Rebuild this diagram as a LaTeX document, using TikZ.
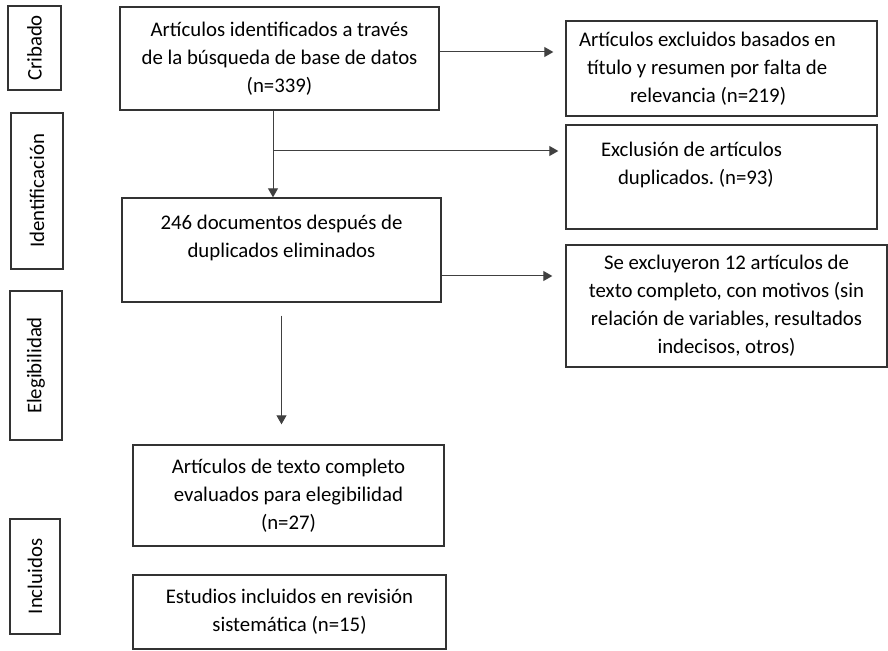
\documentclass[tikz,border=0pt]{standalone}
\usepackage{fontspec}
\setmainfont{Carlito}
\usetikzlibrary{arrows.meta}

\begin{document}
\begin{tikzpicture}[x=0.5pt, y=-0.5pt,
    box/.style={draw=black!80, line width=0.7pt, align=center, inner sep=0pt,
        font=\fontsize{10.4pt}{14pt}\selectfont\frenchspacing},
    leftbox/.style={box, align=flush left, text width=155.5pt},
    phase/.style={box, rotate=90},
    arr/.style={-{Triangle[length=4.5pt, width=5pt]}, line width=0.5pt, draw=black!75}]
	    \useasboundingbox (0,0) rectangle (888,651);

	    % phases on the left
	    \node[phase, minimum width=42pt, minimum height=26.5pt] (cribado) at (34.5,48) {Cribado};
	    \node[phase, minimum width=78pt, minimum height=26pt] (identif) at (37,191) {Identificación};
	    \node[phase, minimum width=74.5pt, minimum height=26pt] (eleg) at (36,365.5) {Elegibilidad};
	    \node[phase, minimum width=57.5pt, minimum height=25pt] (incl) at (35,576.5) {Incluidos};

	    % main column
	    \node[box, minimum width=159.5pt, minimum height=51.5pt] (search) at (279.5,58.5) {Artículos identificados a través\\de la búsqueda de base de datos\\(n=339)};
	    \node[box, minimum width=159.5pt, minimum height=52pt] (dedup) at (281.5,250) {246 documentos después de\\duplicados eliminados\\ \mbox{}};
	    \node[box, minimum width=155.5pt, minimum height=50.5pt] (fulltext) at (288.5,495.5) {Artículos de texto completo\\evaluados para elegibilidad\\(n=27)};
	    \node[box, minimum width=156.5pt, minimum height=37pt] (included) at (289.5,612) {Estudios incluidos en revisión\\sistemática (n=15)};

	    % exclusions
	    \node[leftbox, minimum height=47.5pt] (titleexcl) at (721.5,68.5) {\hspace*{6.5pt}Artículos excluidos basados en\\\hspace*{10.5pt}título y resumen por falta de\\\hspace*{32pt}relevancia (n=219)};
	    \node[leftbox, minimum height=52pt] (dupexcl) at (721.5,177) {\hspace*{17.5pt}Exclusión de artículos\\\hspace*{26pt}duplicados. (n=93)\\ \mbox{}};
	    \node[box, minimum width=160.5pt, minimum height=61pt] (ftexcl) at (726.5,306) {Se excluyeron 12 artículos de\\texto completo, con motivos (sin\\relación de variables, resultados\\indecisos, otros)};

	    \coordinate (split) at (273,151);

	    \draw[arr] ([xshift=-3.25pt]search.south) -- ([xshift=-3.25pt]search.south |- dedup.north);
	    \draw[arr, shorten >=3.5pt] (split) -- (split -| dupexcl.west);
	    \draw[arr, shorten >=6pt] ([yshift=3.25pt]search.east) -- ([yshift=3.25pt]search.east -| titleexcl.west);
	    \draw[arr, shorten >=6.5pt] ([yshift=-13pt]dedup.east) -- ([yshift=-13pt]dedup.east -| ftexcl.west);
	    \draw[arr, shorten <=6.5pt, shorten >=10pt] (dedup.south) -- (dedup.south |- fulltext.north);
	\end{tikzpicture}
\end{document}
